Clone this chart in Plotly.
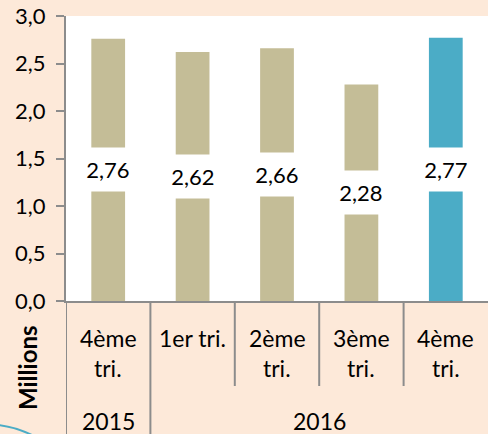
import plotly.graph_objects as go

# Data
values = [2.76, 2.62, 2.66, 2.28, 2.77]
value_labels = ["2,76", "2,62", "2,66", "2,28", "2,77"]
tick_line1 = ["4ème", "1er tri.", "2ème", "3ème", "4ème"]
tick_line2 = ["tri.", "", "tri.", "tri.", "tri."]
years = ["2015", "2016"]
year_spans = [(0, 0), (1, 4)]
bar_colors = ["#C4BD97", "#C4BD97", "#C4BD97", "#C4BD97", "#4BACC6"]

W, H = 488, 434
L, R, T, B = 66, 0, 16, 133
PH = H - T - B  # plot height in px
PW = W - L - R


def py(pix):
    """pixel y (from top) -> paper y"""
    return (H - B - pix) / PH


def px(pix):
    """pixel x (from left) -> paper x"""
    return (pix - L) / PW


FONT = "Lato"
idx = list(range(len(values)))

fig = go.Figure()
fig.add_trace(go.Bar(
    x=idx, y=values, marker=dict(color=bar_colors, line=dict(width=0)),
    width=0.4, hoverinfo="skip", showlegend=False,
))

annotations = []
for i, (v, lab) in enumerate(zip(values, value_labels)):
    annotations.append(dict(
        x=i, y=v / 2, xref="x", yref="y", text=lab, showarrow=False,
        font=dict(family=FONT, size=22, color="#000000"),
        bgcolor="#FFFFFF", height=41, width=56, xanchor="center", yanchor="middle",
    ))
for i, (a, b) in enumerate(zip(tick_line1, tick_line2)):
    annotations.append(dict(
        x=i, y=py(338), xref="x", yref="paper", text=a, showarrow=False,
        font=dict(family=FONT, size=23, color="#000000"), yanchor="middle",
    ))
    if b:
        annotations.append(dict(
            x=i, y=py(368), xref="x", yref="paper", text=b, showarrow=False,
            font=dict(family=FONT, size=23, color="#000000"), yanchor="middle",
        ))
for yr, (s, e) in zip(years, year_spans):
    annotations.append(dict(
        x=(s + e) / 2, y=py(421), xref="x", yref="paper", text=yr, showarrow=False,
        font=dict(family=FONT, size=23, color="#000000"), yanchor="middle",
    ))
annotations.append(dict(
    x=-0.5, xref="x", xshift=-39, y=py(368), yref="paper", text="<b>Millions</b>",
    textangle=-90, showarrow=False, font=dict(family=FONT, size=24, color="#000000"),
    xanchor="center", yanchor="middle",
))

shapes = []
line_col = "#8C8C8C"
for i in range(len(values) - 1):
    bottom = py(434) if i == 0 else py(386)
    shapes.append(dict(type="line", xref="x", yref="paper", x0=i + 0.5, x1=i + 0.5,
                       y0=0, y1=bottom, line=dict(color=line_col, width=2)))
shapes.append(dict(type="line", xref="x", yref="paper", x0=-0.5, x1=-0.5,
                   y0=0, y1=py(434), line=dict(color=line_col, width=2)))
# decorative arc bottom-left
shapes.append(dict(type="path", xref="paper", yref="paper",
                   path=f"M {px(-2)} {py(425)} Q {px(16)} {py(427)} {px(34)} {py(436)}",
                   line=dict(color="#4BACC6", width=2)))

fig.update_layout(
    width=W, height=H,
    margin=dict(l=L, r=R, t=T, b=B, pad=0),
    paper_bgcolor="#FDE9D9", plot_bgcolor="#FFFFFF",
    separators=", ",
    font=dict(family=FONT, size=22, color="#000000"),
    xaxis=dict(range=[-0.5, 4.5], showticklabels=False, showgrid=False, zeroline=False,
               showline=True, linecolor=line_col, linewidth=2, ticks="", fixedrange=True),
    yaxis=dict(range=[0, 3], dtick=0.5, tickformat=".1f", showgrid=False, zeroline=False,
               showline=True, linecolor=line_col, linewidth=2, ticks="outside",
               ticklen=8, tickcolor=line_col, tickwidth=2, fixedrange=True,
               tickfont=dict(family=FONT, size=22, color="#000000"), ticklabelstandoff=6),
    annotations=annotations, shapes=shapes, bargap=0.6,
)

fig.write_html("out.html", config={"displayModeBar": False},
               post_script="document.body.style.margin='0';")
